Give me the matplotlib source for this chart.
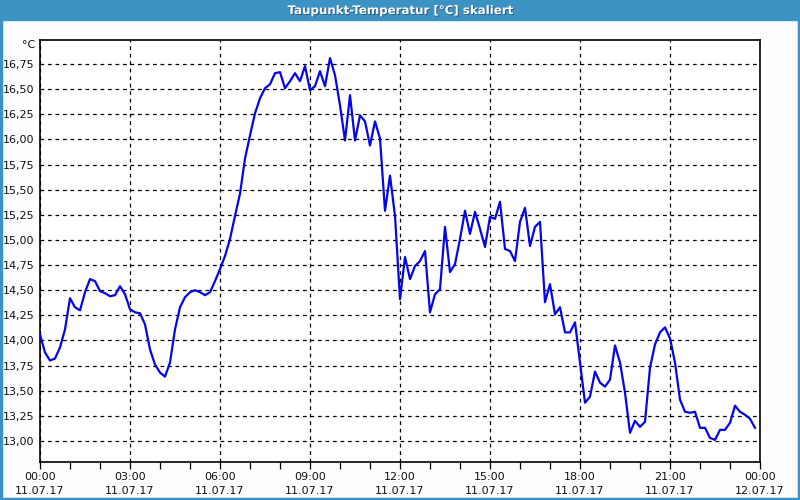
import numpy as np
import pandas as pd
import matplotlib
matplotlib.use("Agg")
import matplotlib.pyplot as plt
import matplotlib.dates as mdates
import matplotlib.patheffects as pe
from matplotlib.ticker import FuncFormatter, MultipleLocator

# dew point readings every 10 minutes, 11.07.17 00:00 .. 23:50
dew_point = [
    14.06, 13.88, 13.80, 13.82, 13.93, 14.11, 14.42, 14.33, 14.30, 14.48,
    14.61, 14.59, 14.49, 14.47, 14.44, 14.45, 14.54, 14.46, 14.31, 14.28,
    14.27, 14.16, 13.91, 13.76, 13.68, 13.64, 13.78, 14.11, 14.33, 14.43,
    14.48, 14.50, 14.48, 14.45, 14.48, 14.59, 14.71, 14.84, 15.01, 15.24,
    15.46, 15.81, 16.04, 16.26, 16.41, 16.51, 16.55, 16.66, 16.67, 16.51,
    16.58, 16.66, 16.58, 16.73, 16.49, 16.53, 16.68, 16.53, 16.81, 16.64,
    16.34, 15.99, 16.44, 15.99, 16.24, 16.18, 15.94, 16.18, 16.01, 15.29,
    15.64, 15.24, 14.41, 14.83, 14.61, 14.74, 14.79, 14.89, 14.28, 14.46,
    14.51, 15.13, 14.68, 14.76, 15.01, 15.29, 15.06, 15.28, 15.11, 14.93,
    15.23, 15.21, 15.38, 14.91, 14.89, 14.79, 15.18, 15.32, 14.94, 15.13,
    15.18, 14.38, 14.56, 14.26, 14.33, 14.08, 14.08, 14.18, 13.78, 13.38,
    13.44, 13.69, 13.58, 13.54, 13.61, 13.95, 13.78, 13.48, 13.08, 13.20,
    13.14, 13.19, 13.73, 13.96, 14.08, 14.13, 14.02, 13.78, 13.41, 13.29,
    13.28, 13.29, 13.13, 13.13, 13.03, 13.01, 13.11, 13.11, 13.18, 13.35,
    13.29, 13.26, 13.22, 13.13,
]
times = pd.date_range("2017-07-11 00:00", periods=len(dew_point), freq="10min")

t_start = pd.Timestamp("2017-07-11 00:00")
t_end = pd.Timestamp("2017-07-12 00:00")
y_min, y_max = 12.79, 16.99

title = "Taupunkt-Temperatur [°C] skaliert"
unit = "°C"
frame_blue = "#3d92c4"

fig = plt.figure(figsize=(8, 5), dpi=100, facecolor="#fcfdfc")

# title bar and window frame
fig.patches.append(plt.Rectangle((0, 0.96), 1, 0.04, transform=fig.transFigure,
                                 color=frame_blue, zorder=0))
fig.patches.append(plt.Rectangle((0.001, 0.002), 0.998, 0.996, transform=fig.transFigure,
                                 fill=False, edgecolor=frame_blue, linewidth=2.5, zorder=0))
fig.text(0.5, 0.979, title, ha="center", va="center", color="white",
         fontsize=8.5, fontweight="bold", family="DejaVu Sans",
         path_effects=[pe.withSimplePatchShadow(offset=(0.7, -0.7), shadow_rgbFace="#203850", alpha=0.6)])

ax = fig.add_axes([0.05, 0.076, 0.90, 0.844])
ax.set_facecolor("white")
ax.plot(times, dew_point, color="#0505e8", linewidth=1.6, zorder=3)

ax.set_xlim(t_start, t_end)
ax.set_ylim(y_min, y_max)

ax.xaxis.set_major_locator(mdates.HourLocator(byhour=range(0, 24, 3)))
ax.xaxis.set_minor_locator(mdates.HourLocator())
ax.xaxis.set_major_formatter(mdates.DateFormatter("%H:%M\n%d.%m.%y"))
ax.yaxis.set_major_locator(MultipleLocator(0.25))
ax.yaxis.set_major_formatter(FuncFormatter(lambda v, p: f"{v:.2f}".replace(".", ",")))

ax.grid(True, which="major", color="black", linestyle=(0, (3, 3)), linewidth=0.9)
ax.tick_params(axis="y", length=0, pad=4, labelsize=8)
ax.tick_params(axis="x", which="major", length=5, width=0.9, pad=2.5, labelsize=8)
ax.tick_params(axis="x", which="minor", length=5, width=0.9)
for lbl in ax.get_xticklabels() + ax.get_yticklabels():
    lbl.set_linespacing(1.45)
    lbl.set_color("#101010")
for sp in ax.spines.values():
    sp.set_color("black")
    sp.set_linewidth(1.2)

ax.text(-0.006, 1.0, unit, transform=ax.transAxes, ha="right", va="top",
        fontsize=8, color="#101010")

fig.savefig("out.png", dpi=100, facecolor=fig.get_facecolor())
